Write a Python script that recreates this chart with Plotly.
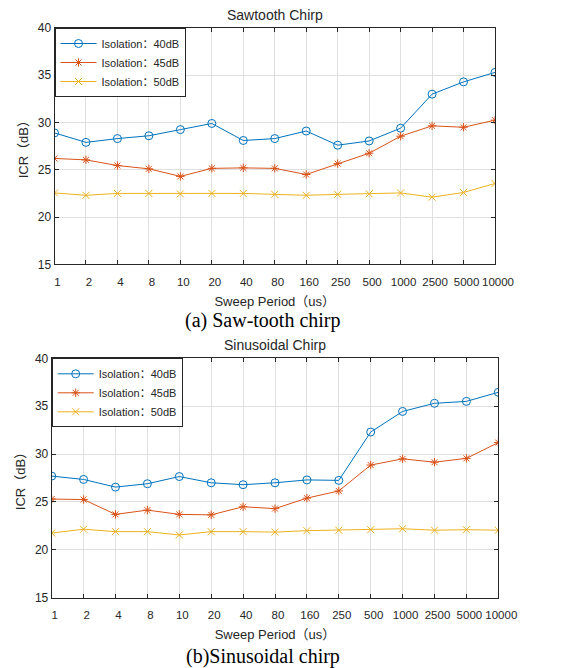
import plotly.graph_objects as go

periods = ["1", "2", "4", "8", "10", "20", "40", "80", "160", "250", "500", "1000", "2500", "5000", "10000"]
series_names = ["Isolation\uff1a40dB", "Isolation\uff1a45dB", "Isolation\uff1a50dB"]

saw_40 = [28.9, 27.9, 28.3, 28.6, 29.25, 29.9, 28.1, 28.3, 29.1, 27.6, 28.05, 29.4, 33.0, 34.3, 35.3]
saw_45 = [26.2, 26.05, 25.45, 25.1, 24.3, 25.15, 25.2, 25.15, 24.5, 25.65, 26.75, 28.55, 29.65, 29.5, 30.25]
saw_50 = [22.55, 22.3, 22.5, 22.5, 22.45, 22.5, 22.5, 22.4, 22.3, 22.4, 22.45, 22.55, 22.1, 22.6, 23.55]

sin_40 = [27.7, 27.35, 26.55, 26.9, 27.65, 27.0, 26.8, 27.0, 27.3, 27.25, 32.3, 34.45, 35.3, 35.5, 36.45]
sin_45 = [25.3, 25.25, 23.7, 24.15, 23.7, 23.65, 24.5, 24.3, 25.4, 26.15, 28.85, 29.5, 29.15, 29.55, 31.2]
sin_50 = [21.75, 22.15, 21.9, 21.9, 21.55, 21.9, 21.9, 21.85, 22.0, 22.05, 22.1, 22.2, 22.05, 22.1, 22.05]

y_ticks = [15, 20, 25, 30, 35, 40]

colors = ["#0072BD", "#D95319", "#EDB120"]
symbols = ["circle-open", "asterisk-open", "x-thin-open"]
msizes = [8, 7, 7]

W, H = 562, 668
FONT = "Liberation Sans, Arial, Noto Sans CJK SC, sans-serif"

fig = go.Figure()

panels = [
    dict(data=[saw_40, saw_45, saw_50], xa="x", ya="y", legend="legend",
         xpx=(54.5, 495), ypx=(28, 264.3), lab_off=7, tstand=9),
    dict(data=[sin_40, sin_45, sin_50], xa="x2", ya="y2", legend="legend2",
         xpx=(51.7, 498.3), ypx=(358.3, 597.7), lab_off=6, tstand=10),
]

for p in panels:
    for i, vals in enumerate(p["data"]):
        fig.add_trace(go.Scatter(
            x=periods, y=vals, name=series_names[i], mode="lines+markers",
            line=dict(color=colors[i], width=1),
            marker=dict(symbol=symbols[i], size=msizes[i], color=colors[i],
                        line=dict(color=colors[i], width=1)),
            xaxis=p["xa"], yaxis=p["ya"], legend=p["legend"],
        ))

def xdom(px):
    return [px[0] / W, px[1] / W]

def ydom(px):
    return [(H - px[1]) / H, (H - px[0]) / H]

axis_common = dict(
    showline=True, linecolor="#262626", linewidth=1, mirror="allticks",
    ticks="inside", ticklen=4, tickcolor="#262626", automargin=False,
    showgrid=True, gridcolor="#dfdfdf", gridwidth=1, zeroline=False,
)

layout = dict(
    width=W, height=H, margin=dict(l=0, r=0, t=0, b=0, pad=0), autosize=False,
    plot_bgcolor="white", paper_bgcolor="white",
    font=dict(family=FONT, color="#262626"),
    showlegend=True,
)

for k, p in enumerate(panels):
    sx = "" if k == 0 else "2"
    layout["xaxis" + sx] = dict(
        axis_common, type="category", domain=xdom(p["xpx"]), range=[0, 14],
        anchor="y" + sx, ticklabelshift=3, tickangle=0, ticklabelstandoff=p["lab_off"],
        tickfont=dict(family=FONT, size=11.5, color="#262626"),
        title=dict(text="Sweep Period\uff08us\uff09", font=dict(family=FONT, size=13, color="#262626"), standoff=p["tstand"]),
    )
    layout["yaxis" + sx] = dict(
        axis_common, domain=ydom(p["ypx"]), range=[15, 40], tickvals=y_ticks,
        anchor="x" + sx,
        tickfont=dict(family=FONT, size=12, color="#262626"),
        title=dict(text="ICR\uff08dB\uff09", font=dict(family=FONT, size=13, color="#262626"), standoff=6),
    )
    leg = dict(
        x=p["xpx"][0] / W, y=(H - p["ypx"][0]) / H, xanchor="left", yanchor="top",
        bgcolor="white", bordercolor="#262626", borderwidth=1,
        font=dict(family=FONT, size=11, color="#262626"),
        itemwidth=36, tracegroupgap=0,
    )
    layout["legend" if k == 0 else "legend2"] = leg

fig.update_layout(**layout)

annots = [
    dict(text="Sawtooth Chirp", x=(54.5 + 495) / 2 / W, y=(H - 15) / H, size=14, fam=FONT, col="#262626"),
    dict(text="Sinusoidal Chirp", x=(51.7 + 498.3) / 2 / W, y=(H - 345) / H, size=14, fam=FONT, col="#262626"),
    dict(text="(a) Saw-tooth chirp", x=263 / W, y=(H - 320) / H, size=20, fam="Liberation Serif, Times New Roman, serif", col="#000000"),
    dict(text="(b)Sinusoidal chirp", x=263 / W, y=(H - 656) / H, size=20, fam="Liberation Serif, Times New Roman, serif", col="#000000"),
]
for a in annots:
    fig.add_annotation(text=a["text"], x=a["x"], y=a["y"], xref="paper", yref="paper",
                       xanchor="center", yanchor="middle", showarrow=False,
                       font=dict(family=a["fam"], size=a["size"], color=a["col"]))

fig.write_html("out.html", config={"displayModeBar": False},
               post_script="document.body.style.margin='0px';document.body.style.overflow='hidden';")
